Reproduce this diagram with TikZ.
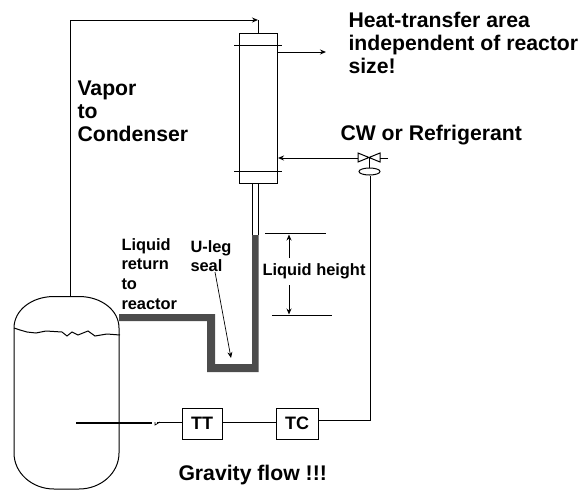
\documentclass[tikz,border=0pt]{standalone}
\usepackage{fontspec}
\setmainfont{Liberation Sans}
\usetikzlibrary{arrows.meta}
\usetikzlibrary{positioning,shapes.geometric}
\begin{document}
\begin{tikzpicture}[x=1pt,y=-1pt,>={Stealth[length=6pt,width=5pt]},line width=1pt]
\useasboundingbox (0,0) rectangle (581,490);
\tikzset{
  bigtext/.style={font=\bfseries\fontsize{21.2}{23}\selectfont,align=left,inner sep=0pt},
  smalltext/.style={font=\bfseries\fontsize{16.4}{19.6}\selectfont,align=left,inner sep=0pt},
  pipe/.style={draw=none,fill=black!70}
}
% vessel
\draw (14,328) .. controls (14,310) and (32,296.5) .. (54,296.5) -- (79,296.5)
   .. controls (101,296.5) and (119,310) .. (119,328) -- (119,453)
   .. controls (119,473) and (101,489) .. (79,489) -- (54,489)
   .. controls (32,489) and (14,473) .. (14,453) -- cycle;
\draw (14,328) -- (20,330) -- (27,332) -- (36,333) -- (46,331) -- (62,332) -- (67,336)
   -- (72,332) -- (78,335) -- (88,331) -- (95,336) -- (107,334) -- (120,335);
\coordinate (VT) at (70,297);
\coordinate (VC) at (70,20);
% condenser
\node[draw,minimum width=38pt,minimum height=150pt,inner sep=0pt] (COND) at (258,108) {};
\coordinate (CT) at (258,20);
\draw (234,45) -- (282,45);
\draw (234,171) -- (282,171);
\draw (COND.north) -- (CT);
\draw[->] (VT) -- (VC) -- (CT);
\coordinate (OUTA) at (278,52);
\coordinate (OUTB) at (326,52);
\draw[->] (OUTA) -- (OUTB);
% liquid return
\draw (252,183) -- (252,235);
\draw (258,183) -- (258,235);
\fill[pipe] (119,314) -- (215,314) -- (215,364) -- (252,364) -- (252,235) -- (258.5,235)
   -- (258.5,372) -- (207,372) -- (207,321) -- (119,321) -- cycle;
% valve
\node[draw,ellipse,minimum width=21pt,minimum height=7pt,inner sep=0pt] (ACT) at (369.5,171.5) {};
\coordinate (V) at (369.5,158);
\coordinate (CWR) at (388,158);
\coordinate (CWL) at (278,158);
\draw (358,153) -- (380,162) -- (380,153) -- (358,162) -- cycle;
\draw (CWR) -- (380,158);
\draw[->] (358,158) -- (CWL);
\draw (V) -- (ACT.north);
% instruments
\begin{scope}[every node/.style={draw,font=\bfseries\fontsize{18}{18}\selectfont,minimum height=31pt,inner sep=0pt}]
    \node[minimum width=40pt] (TT) at (202,423.5) {TT};
    \node[minimum width=42pt] (TC) at (297,423.5) {TC};
\end{scope}
\coordinate (TE) at (76,423);
\coordinate (TW) at (152,423);
\coordinate (TS) at (157,422);
\coordinate (TCR) at (318,420);
\coordinate (CWD) at (370,420);
\draw[line width=2pt] (TE) -- (TW);
\draw (TT.west |- TS) -- (TS);
\draw (TT.east |- TS) -- (TC.west |- TS);
\draw (TCR) -- (CWD) -- (ACT.south -| CWD);
\draw[line width=0.7pt] (155,422) -- (155,425) -- (160,422);
% liquid height
\draw (265,233.5) -- (326,233.5);
\draw (272,315) -- (332,315);
\node[smalltext,anchor=base] (LH) at (314,275) {Liquid height};
\coordinate (LHT) at (289,234.5);
\coordinate (LHB) at (289,314.5);
\coordinate (LHU) at (289,258);
\coordinate (LHD) at (289,285);
\draw[->] (LHU) -- (LHT);
\draw[->] (LHD) -- (LHB);
% labels
\node[bigtext,anchor=north west] (VAP) at (77,80) {Vapor\\to\\Condenser};
\node[bigtext,anchor=north west] (HT) at (348,12) {Heat-transfer area\\independent of reactor\\size!};
\node[bigtext,anchor=base west] (CW) at (340,140) {CW or Refrigerant};
\node[bigtext,anchor=base west] (GF) at (178,480) {Gravity flow !!!};
\node[smalltext,anchor=north west] (LR) at (121,238) {Liquid\\return\\to\\reactor};
\node[smalltext,anchor=north west] (UL) at (190,240) {U-leg\\seal};
\coordinate (ULA) at (215,272);
\coordinate (ULT) at (231,358);
\draw[line width=0.7pt,->] (ULA) -- (ULT);
\end{tikzpicture}
\end{document}
